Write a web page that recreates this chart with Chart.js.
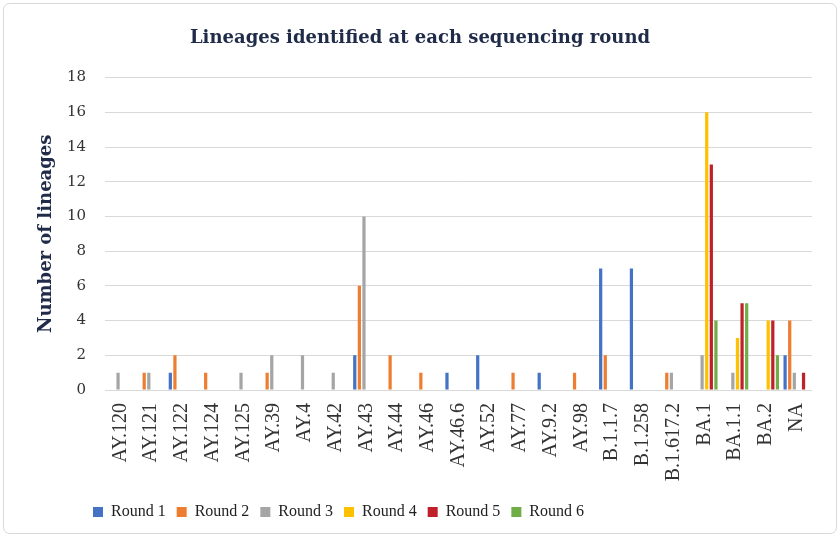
<!DOCTYPE html>
<html>
<head>
<meta charset="utf-8">
<script src="https://cdn.jsdelivr.net/npm/chart.js@4.4.1/dist/chart.umd.min.js"></script>
<style>
  html, body { margin: 0; padding: 0; background: #fff; }
  #wrap { width: 840px; height: 541px; }
</style>
</head>
<body>
<div id="wrap"><canvas id="chart" width="840" height="541"></canvas></div>
<script>
const lineages = ["AY.120", "AY.121", "AY.122", "AY.124", "AY.125", "AY.39", "AY.4", "AY.42", "AY.43",
  "AY.44", "AY.46", "AY.46.6", "AY.52", "AY.77", "AY.9.2", "AY.98", "B.1.1.7", "B.1.258",
  "B.1.617.2", "BA.1", "BA.1.1", "BA.2", "NA"];

const round1 = [0, 0, 1, 0, 0, 0, 0, 0, 2, 0, 0, 1, 2, 0, 1, 0, 7, 7, 0, 0, 0, 0, 2];
const round2 = [0, 1, 2, 1, 0, 1, 0, 0, 6, 2, 1, 0, 0, 1, 0, 1, 2, 0, 1, 0, 0, 0, 4];
const round3 = [1, 1, 0, 0, 1, 2, 2, 1, 10, 0, 0, 0, 0, 0, 0, 0, 0, 0, 1, 2, 1, 0, 1];
const round4 = [0, 0, 0, 0, 0, 0, 0, 0, 0, 0, 0, 0, 0, 0, 0, 0, 0, 0, 0, 16, 3, 4, 0];
const round5 = [0, 0, 0, 0, 0, 0, 0, 0, 0, 0, 0, 0, 0, 0, 0, 0, 0, 0, 0, 13, 5, 4, 1];
const round6 = [0, 0, 0, 0, 0, 0, 0, 0, 0, 0, 0, 0, 0, 0, 0, 0, 0, 0, 0, 4, 5, 2, 0];

const yTicks = [0, 2, 4, 6, 8, 10, 12, 14, 16, 18];

const series = [
  { label: "Round 1", data: round1, color: "#4472C4" },
  { label: "Round 2", data: round2, color: "#ED7D31" },
  { label: "Round 3", data: round3, color: "#A5A5A5" },
  { label: "Round 4", data: round4, color: "#FFC000" },
  { label: "Round 5", data: round5, color: "#C0202A" },
  { label: "Round 6", data: round6, color: "#70AD47" }
];

// white card with the thin rounded frame around the chart
const framePlugin = {
  id: "frame",
  beforeDraw(chart) {
    const ctx = chart.ctx;
    ctx.save();
    ctx.fillStyle = "#fff";
    ctx.fillRect(0, 0, chart.width, chart.height);
    ctx.strokeStyle = "#d9d9d9";
    ctx.lineWidth = 1;
    ctx.beginPath();
    ctx.roundRect(3.5, 3.5, chart.width - 7, chart.height - 11, 6);
    ctx.stroke();
    ctx.restore();
  }
};

// the legend sits left of centre in the original
const legendShift = {
  id: "legendShift",
  afterLayout(chart) {
    const lg = chart.legend;
    const dx = 82 - lg.left;
    lg.left += dx;
    lg.right += dx;
  }
};

const serif = "'DejaVu Serif', serif";

new Chart(document.getElementById("chart"), {
  type: "bar",
  data: {
    labels: lineages,
    datasets: series.map(s => ({
      label: s.label,
      data: s.data,
      backgroundColor: s.color,
      borderWidth: 0,
      categoryPercentage: 0.9,
      barPercentage: 0.7
    }))
  },
  options: {
    responsive: false,
    animation: false,
    layout: { padding: { top: 16, left: 28, right: 28, bottom: 11 } },
    plugins: {
      title: {
        display: true,
        text: "Lineages identified at each sequencing round",
        color: "#1f2b48",
        font: { family: serif, size: 18, weight: "bold" },
        padding: { top: 12, bottom: 28 }
      },
      legend: {
        position: "bottom",
        align: "start",
        labels: {
          boxWidth: 10,
          boxHeight: 10,
          padding: 11,
          color: "#222",
          font: { family: "'Liberation Serif', serif", size: 16 }
        }
      },
      tooltip: { enabled: false }
    },
    scales: {
      x: {
        grid: { display: false, drawTicks: false },
        border: { display: false },
        ticks: {
          autoSkip: false,
          minRotation: 90,
          maxRotation: 90,
          padding: 13,
          color: "#333",
          font: { family: "'Liberation Serif', serif", size: 20 }
        },
        afterFit(scale) { scale.height = 103; }
      },
      y: {
        min: 0,
        max: 18,
        afterBuildTicks(scale) { scale.ticks = yTicks.map(v => ({ value: v })); },
        grid: { color: "#d9d9d9", drawTicks: false },
        border: { display: false },
        ticks: {
          padding: 19,
          color: "#333",
          font: { family: serif, size: 15 }
        },
        title: {
          display: true,
          text: "Number of lineages",
          color: "#1f2b48",
          font: { family: serif, size: 18, weight: "bold" },
          padding: { top: 8, bottom: 0 }
        },
        afterFit(scale) { scale.width = 77; }
      }
    }
  },
  plugins: [framePlugin, legendShift]
});
</script>
</body>
</html>
